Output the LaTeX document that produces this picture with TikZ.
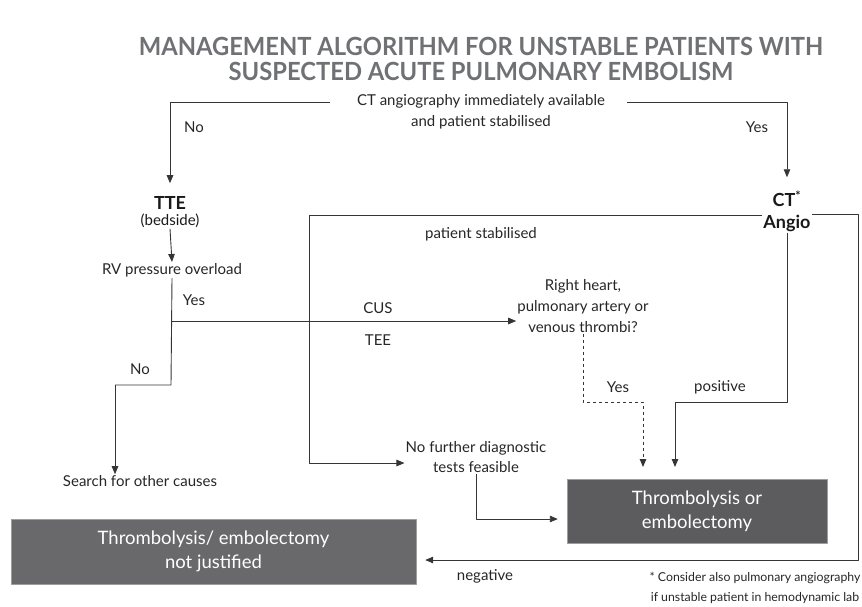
\documentclass[tikz,border=0pt]{standalone}
\usepackage{fontspec}
\setmainfont{Lato}
\newfontfamily\titlefont[FakeStretch=0.95]{Lato}
\usetikzlibrary{arrows.meta,positioning,calc}
\definecolor{linegray}{HTML}{353535}
\definecolor{boxgray}{HTML}{5C5C5E}
\definecolor{titlegray}{HTML}{707174}
\tikzset{
  txt/.style={align=center, text=black!85, inner sep=1pt, font=\fontsize{15}{21}\selectfont},
  bold/.style={align=center, text=black!90, inner sep=1pt, font=\fontsize{18}{22}\selectfont\bfseries},
  darkbox/.style={fill=boxgray, draw=boxgray!60, text=white, align=center, inner sep=0pt, font=\fontsize{18.5}{24}\selectfont},
  flow/.style={draw=linegray, line width=0.9pt, -{Triangle[width=6.5pt,length=8pt]}},
  plain/.style={draw=linegray, line width=0.9pt},
  every label/.style={text=black!85, inner sep=1pt, font=\fontsize{15}{18}\selectfont}
}
\begin{document}
\begin{tikzpicture}[line join=round, x=1pt, y=-1pt]
\useasboundingbox (0,0) rectangle (862,606);
\node[text=titlegray, align=center, font=\titlefont\bfseries\fontsize{25}{25}\selectfont] (title) at (481,59)
  {MANAGEMENT ALGORITHM FOR UNSTABLE PATIENTS WITH\\SUSPECTED ACUTE PULMONARY EMBOLISM};
\node[txt] (ctq) at (481,112) {CT angiography immediately available\\and patient stabilised};
\node[bold, font=\fontsize{18}{16}\selectfont\bfseries] (tte) at (170,212) {TTE\\\normalfont\fontsize{15}{16}\selectfont(bedside)};
\node[txt] (rv) at (172,270) {RV pressure overload};
\node[bold] (angio) at (787,211) {CT\textsuperscript{*}\\Angio};
\node[txt] (rh) at (583,306) {Right heart,\\pulmonary artery or\\venous thrombi?};
\node[txt, font=\fontsize{15}{20}\selectfont] (nofurther) at (476,457) {No further diagnostic\\tests feasible};
\node[txt] (search) at (140,481) {Search for other causes};
\node[darkbox, minimum width=260pt, minimum height=64pt] (thromb) at (697,511) {Thrombolysis or\\embolectomy};
\node[darkbox, minimum width=405pt, minimum height=65pt, fill=boxgray!92] (notjust) at (213.5,551.5) {Thrombolysis/ embolectomy\\not justified};
\node[txt, font=\fontsize{12.3}{20}\selectfont] (foot) at (755,588) {* Consider also pulmonary angiography\\if unstable patient in hemodynamic lab};

\coordinate (ctL) at (330,102);
\coordinate (ctR) at (627,102);
\coordinate (jY) at (171,321);
\coordinate (jNo) at (171,385);
\coordinate (jStab) at (309,215);
\coordinate (jPos) at (787,402);
\coordinate (jDash) at (583,402);
\coordinate (jNeg) at (858,214);
\draw[flow, shorten >=12pt] (ctL) -| (tte.north);
\draw[flow, shorten >=12pt] (ctR) -| (angio.north);
\draw[flow] (tte.south) -- (rv.north);
\draw[plain] (rv.south) -- (jNo) -| ++(-56,0) coordinate (jSearch);
\draw[flow] (jSearch) -- ([xshift=-25pt]search.north);
\draw[flow] (jY) -- (jY -| rh.west);
\draw[flow, {Triangle[width=6.5pt,length=8pt]}-] (nofurther.west |- 0,463) -| (jStab) -- (jStab -| angio.west);
\draw[flow, shorten >=9pt] (angio.east |- jNeg) -- (jNeg) |- (notjust.east |- 0,560);
\draw[flow, shorten >=12pt] (angio.south) -- (jPos) -| (675,479);
\draw[flow, dashed, shorten >=12pt] (rh.south) -- (jDash) -| (643,479);
\draw[flow, shorten >=9pt] (nofurther.south) |- (thromb.west |- 0,519);

\node at (194,127) [every label] {No};
\node at (757,127) [every label] {Yes};
\node at (194,300) [every label] {Yes};
\node at (140,369) [every label] {No};
\node at (378,308) [every label] {CUS};
\node at (378,340) [every label] {TEE};
\node at (481,234) [every label] {patient stabilised};
\node at (618,387) [every label] {Yes};
\node at (720,387) [every label] {positive};
\node at (485,576) [every label] {negative};
\end{tikzpicture}
\end{document}
